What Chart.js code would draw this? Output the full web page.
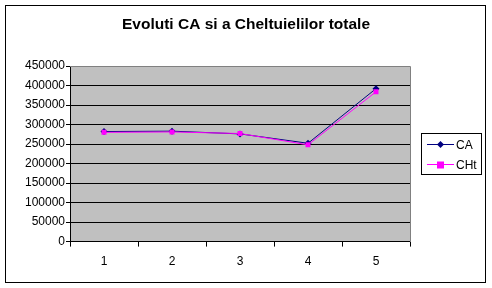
<!DOCTYPE html>
<html>
<head>
<meta charset="utf-8">
<script src="https://cdn.jsdelivr.net/npm/chart.js@4"></script>
<style>
  html, body { margin: 0; padding: 0; background: #fff; }
  #wrap { width: 492px; height: 288px; position: relative; }
</style>
</head>
<body>
<div id="wrap"><canvas id="myChart" width="492" height="288"></canvas></div>
<script>
const labels = ['1', '2', '3', '4', '5'];
const valuesCA = [282000, 283000, 276000, 252000, 392000];
const valuesCHt = [280000, 281000, 277000, 248000, 384000];
const seriesNames = ['CA', 'CHt'];
const chartTitle = 'Evoluti CA si a Cheltuielilor totale';

const fontFam = '"Liberation Sans", Arial, sans-serif';

// fundal gri + chenare + titlu + legenda desenata ca in Excel
const excelLook = {
    id: 'excelLook',
    beforeDraw(chart) {
        const {ctx, chartArea: a} = chart;
        ctx.save();
        ctx.fillStyle = '#fff';
        ctx.fillRect(0, 0, chart.width, chart.height);
        ctx.fillStyle = '#c0c0c0';
        ctx.fillRect(a.left, a.top, a.right - a.left, a.bottom - a.top);
        ctx.restore();
    },
    afterDraw(chart) {
        const {ctx, chartArea: a} = chart;
        ctx.save();
        ctx.strokeStyle = '#808080';
        ctx.lineWidth = 1;
        ctx.beginPath();
        ctx.moveTo(Math.round(a.left), Math.round(a.top) + 0.5);
        ctx.lineTo(Math.round(a.right) + 0.5, Math.round(a.top) + 0.5);
        ctx.lineTo(Math.round(a.right) + 0.5, Math.round(a.bottom));
        ctx.stroke();
        ctx.strokeStyle = '#000';
        ctx.strokeRect(5.5, 5.5, 480, 277);

        // titlu
        ctx.fillStyle = '#000';
        ctx.font = 'bold 15.5px ' + fontFam;
        ctx.textAlign = 'center';
        ctx.textBaseline = 'middle';
        ctx.fillText(chartTitle, 246, 25);

        // legenda
        ctx.textAlign = 'left';
        ctx.fillStyle = '#fff';
        ctx.fillRect(421.5, 133.5, 60, 41);
        ctx.strokeRect(421.5, 133.5, 60, 41);
        ctx.font = '12px ' + fontFam;
        seriesNames.forEach((name, i) => {
            const ds = chart.data.datasets.find(d => d.label === name);
            const y = 144.5 + i * 20;
            ctx.strokeStyle = ds.borderColor;
            ctx.beginPath();
            ctx.moveTo(427, y);
            ctx.lineTo(454, y);
            ctx.stroke();
            ctx.fillStyle = ds.borderColor;
            if (ds.pointStyle === 'rectRot') {
                ctx.beginPath();
                ctx.moveTo(440.5, y - 3.5);
                ctx.lineTo(444, y);
                ctx.lineTo(440.5, y + 3.5);
                ctx.lineTo(437, y);
                ctx.closePath();
                ctx.fill();
            } else {
                ctx.fillRect(437, y - 3, 7, 7);
            }
            ctx.fillStyle = '#000';
            ctx.fillText(name, 456, y + 1);
        });
        ctx.restore();
    }
};

const data = {
    labels: labels,
    datasets: [{
        label: seriesNames[0],
        data: valuesCA,
        order: 1,
        borderColor: '#000080',
        backgroundColor: '#000080',
        borderWidth: 1,
        pointStyle: 'rectRot',
        pointRadius: 3.5,
        pointBorderWidth: 0,
        tension: 0
    }, {
        label: seriesNames[1],
        data: valuesCHt,
        order: 0,
        borderColor: '#ff00ff',
        backgroundColor: '#ff00ff',
        borderWidth: 1,
        pointStyle: 'rect',
        pointRadius: 3.5,
        pointBorderWidth: 0,
        tension: 0
    }]
};

const config = {
    type: 'line',
    data: data,
    options: {
        responsive: false,
        animation: false,
        layout: {
            padding: {left: 0, right: 82, top: 66, bottom: 11}
        },
        scales: {
            x: {
                offset: true,
                border: {color: '#000', width: 1},
                grid: {
                    offset: true,
                    drawOnChartArea: false,
                    drawTicks: true,
                    tickLength: 5,
                    color: '#000'
                },
                ticks: {
                    color: '#000',
                    padding: 8,
                    font: {family: fontFam, size: 12}
                }
            },
            y: {
                min: 0,
                max: 450000,
                afterFit: (scale) => { scale.width = 70; },
                border: {color: '#000', width: 1},
                grid: {
                    color: '#000',
                    tickLength: 4
                },
                ticks: {
                    stepSize: 50000,
                    color: '#000',
                    padding: 1,
                    font: {family: fontFam, size: 12},
                    callback: (v) => String(v)
                }
            }
        },
        plugins: {
            legend: {display: false},
            tooltip: {enabled: false},
            title: {display: false}
        }
    },
    plugins: [excelLook]
};

const myChart = new Chart(document.getElementById('myChart'), config);
</script>
</body>
</html>
